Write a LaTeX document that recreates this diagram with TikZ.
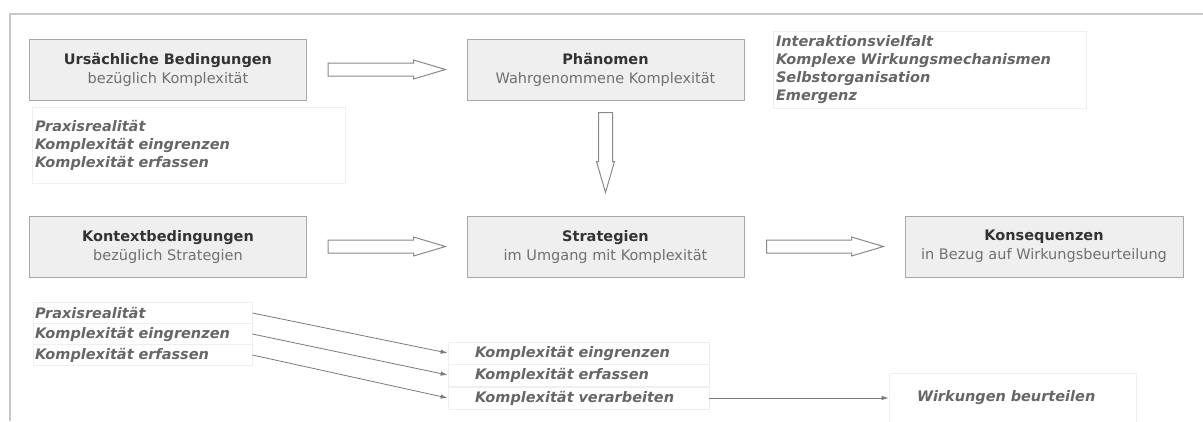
\documentclass[tikz,border=0pt]{standalone}
\usepackage{fontspec}
\setmainfont{DejaVu Sans}
\usetikzlibrary{calc,arrows.meta}

\definecolor{framegray}{HTML}{C8C8C8}
\definecolor{boxfill}{HTML}{EFEFEF}
\definecolor{boxline}{HTML}{A8A8A8}
\definecolor{titletext}{HTML}{333333}
\definecolor{subtext}{HTML}{707070}
\definecolor{notetext}{HTML}{666666}
\definecolor{noteline}{HTML}{EFEFEF}
\definecolor{arrowline}{HTML}{8A8A8A}
\definecolor{linkline}{HTML}{7A7A7A}

\tikzset{
  catbox/.style={draw=boxline, fill=boxfill, line width=1pt,
    minimum width=277, minimum height=61, align=center, inner sep=0pt,
    font=\fontsize{14.5}{19}\selectfont, text=subtext},
  notebox/.style={draw=noteline, line width=0.8pt, inner ysep=0pt,
    align=left, text=notetext,
    font=\fontsize{14.5}{18}\selectfont\bfseries\itshape},
  blockarrow/.style={draw=arrowline, fill=white, line width=1pt, line join=miter},
  link/.style={draw=linkline, line width=0.8pt,
    -{Latex[length=7pt,width=4.5pt]}},
}

\newcommand{\cattitle}[2]{{\bfseries\color{titletext}#1}\\#2}

\begin{document}
\begin{tikzpicture}[x=1pt,y=-1pt]
  \useasboundingbox (0,0) rectangle (1203,421);
  \clip (0,0) rectangle (1203,421);

  % outer frame (top and left edges)
  \draw[framegray, line width=1.5pt] (10,421) -- (10,14) -- (1203,14);

  % category boxes
  \node[catbox] (ub) at (168,69.5)    {\cattitle{Ursächliche Bedingungen}{bezüglich Komplexität}};
  \node[catbox] (ph) at (605.5,69.5)  {\cattitle{Phänomen}{Wahrgenommene Komplexität}};
  \node[catbox] (kb) at (168,246.5)   {\cattitle{Kontextbedingungen}{bezüglich Strategien}};
  \node[catbox] (st) at (605.5,246.5) {\cattitle{Strategien}{im Umgang mit Komplexität}};
  \node[catbox, minimum width=278] (ko) at (1044,246.5) {\cattitle{Konsequenzen}{in Bezug auf Wirkungsbeurteilung}};

  % annotation blocks
  \node[notebox, text width=307, inner xsep=3, minimum height=76] (na) at (188.5,145)
    {Praxisrealität\\Komplexität eingrenzen\\Komplexität erfassen};
  \node[notebox, text width=307, inner xsep=3, minimum height=77] (nb) at (929.5,69.5)
    {Interaktionsvielfalt\\Komplexe Wirkungsmechanismen\\Selbstorganisation\\Emergenz};

  % context items
  \node[notebox, text width=215, inner xsep=2, minimum height=21] (l1) at (142.5,313) {Praxisrealität};
  \node[notebox, text width=215, inner xsep=2, minimum height=21] (l2) at (142.5,334) {Komplexität eingrenzen};
  \node[notebox, text width=215, inner xsep=2, minimum height=21] (l3) at (142.5,355) {Komplexität erfassen};

  % strategy items
  \node[notebox, text width=207, inner xsep=27, minimum height=22] (m1) at (578.5,353) {Komplexität eingrenzen};
  \node[notebox, text width=207, inner xsep=27, minimum height=22] (m2) at (578.5,375) {Komplexität erfassen};
  \node[notebox, text width=207, inner xsep=27, minimum height=22] (m3) at (578.5,398) {Komplexität verarbeiten};

  % consequence item
  \node[notebox, text width=191, inner xsep=28, minimum height=50] (wb) at (1012.5,398) {Wirkungen beurteilen};

  % hollow block arrows
  \coordinate (h1s) at ($(ub.east)+(21,0)$);
  \coordinate (h1e) at ($(ph.west)+(-21,0)$);
  \draw[blockarrow] ($(h1s)+(0,-6.5)$) -- ($(h1e)+(-32,-6.5)$) -- ($(h1e)+(-32,-9.5)$)
    -- (h1e) -- ($(h1e)+(-32,9.5)$) -- ($(h1e)+(-32,6.5)$) -- ($(h1s)+(0,6.5)$) -- cycle;

  \coordinate (h2s) at ($(kb.east)+(21,0)$);
  \coordinate (h2e) at ($(st.west)+(-21,0)$);
  \draw[blockarrow] ($(h2s)+(0,-6.5)$) -- ($(h2e)+(-32,-6.5)$) -- ($(h2e)+(-32,-9.5)$)
    -- (h2e) -- ($(h2e)+(-32,9.5)$) -- ($(h2e)+(-32,6.5)$) -- ($(h2s)+(0,6.5)$) -- cycle;

  \coordinate (h3s) at ($(st.east)+(22,0)$);
  \coordinate (h3e) at ($(ko.west)+(-21,0)$);
  \draw[blockarrow] ($(h3s)+(0,-6.5)$) -- ($(h3e)+(-32,-6.5)$) -- ($(h3e)+(-32,-9.5)$)
    -- (h3e) -- ($(h3e)+(-32,9.5)$) -- ($(h3e)+(-32,6.5)$) -- ($(h3s)+(0,6.5)$) -- cycle;

  \coordinate (v1s) at ($(ph.south)+(0,12)$);
  \coordinate (v1e) at ($(st.north)+(0,-23)$);
  \draw[blockarrow] ($(v1s)+(-7,0)$) -- ($(v1e)+(-7,-31)$) -- ($(v1e)+(-9,-31)$)
    -- (v1e) -- ($(v1e)+(9,-31)$) -- ($(v1e)+(7,-31)$) -- ($(v1s)+(7,0)$) -- cycle;

  % item links
  \draw[link] (l1.east) -- (m1.west);
  \draw[link] (l2.east) -- (m2.west);
  \draw[link] (l3.east) -- (m3.west);
  \draw[link] (m3.east) -- (wb.west);
\end{tikzpicture}
\end{document}
